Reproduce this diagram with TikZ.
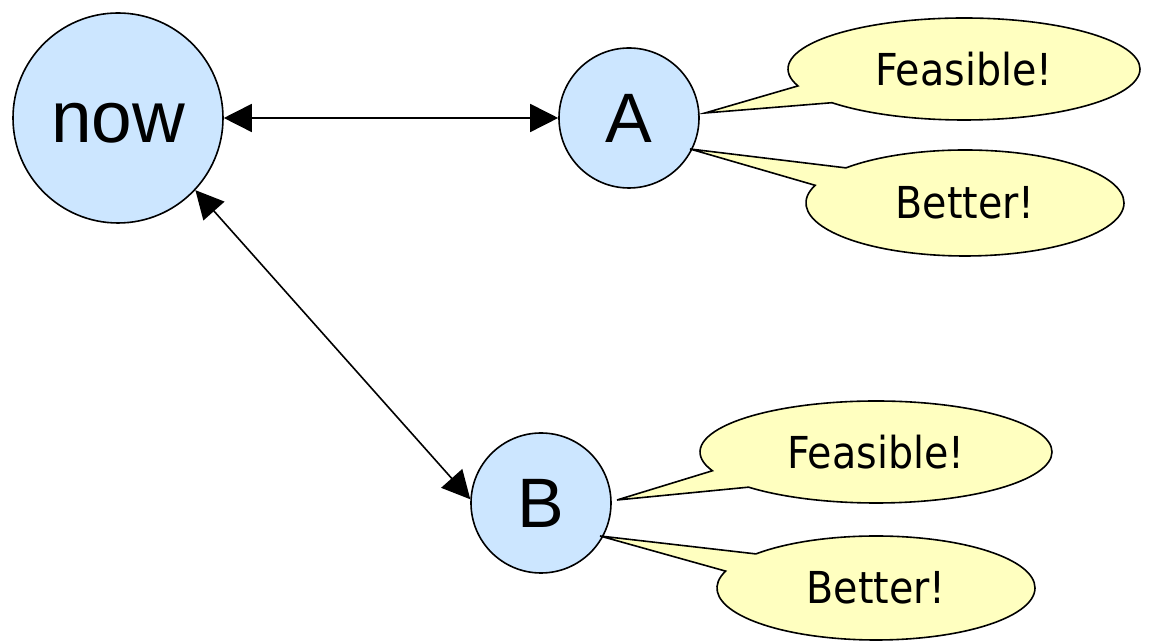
\documentclass[tikz,border=0pt]{standalone}
\usepackage{fontspec}
\setmainfont{Liberation Sans}
\newfontfamily\calloutfont{DejaVu Sans Condensed}
\usetikzlibrary{arrows.meta,shapes.callouts,calc}
\definecolor{statefill}{RGB}{204,230,255}
\definecolor{notefill}{RGB}{255,255,192}
\begin{document}
\begin{tikzpicture}[x=1pt,y=1pt,
  state/.style={circle,draw=black,line width=1.6pt,fill=statefill,inner sep=0pt,
    font=\fontsize{70}{84}\selectfont},
  note/.style={ellipse callout,draw=black,line width=1.6pt,fill=notefill,inner sep=0pt,
    callout pointer arc=22,font=\calloutfont\fontsize{44}{52}\selectfont},
  link/.style={line width=1.6pt,
    {Triangle[length=28pt,width=28pt]}-{Triangle[length=28pt,width=28pt]}}]
\useasboundingbox (0,0) rectangle (1152,642);

% states
\node[state,minimum size=210pt,font=\fontsize{73}{88}\selectfont] (now) at (118,524)
  {\raisebox{-5pt}[\height][0pt]{now}};
\node[state,minimum size=140pt] (A) at (629,524) {A};
\node[state,minimum size=140pt] (B) at (541,139) {B};

% transitions
\draw[link] (now) -- (A);
\draw[link] (now.-43.5) -- (B.177);

% callout tips
\coordinate (tFA) at ($(A.center)+(76,5)$);
\coordinate (tBA) at ($(A.center)+(61,-31)$);
\coordinate (tFB) at ($(B.center)+(76,3)$);
\coordinate (tBB) at ($(B.center)+(59,-33)$);

% remarks
\node[note,minimum width=352pt,minimum height=102pt,callout absolute pointer={(tFA)}]
  (FA) at (964,573) {Feasible!};
\node[note,minimum width=318pt,minimum height=106pt,callout absolute pointer={(tBA)}]
  (BA) at (965,439) {Better!};
\node[note,minimum width=352pt,minimum height=102pt,callout absolute pointer={(tFB)}]
  (FB) at (876,190) {Feasible!};
\node[note,minimum width=318pt,minimum height=104pt,callout absolute pointer={(tBB)}]
  (BB) at (876,54) {Better!};
\end{tikzpicture}
\end{document}
